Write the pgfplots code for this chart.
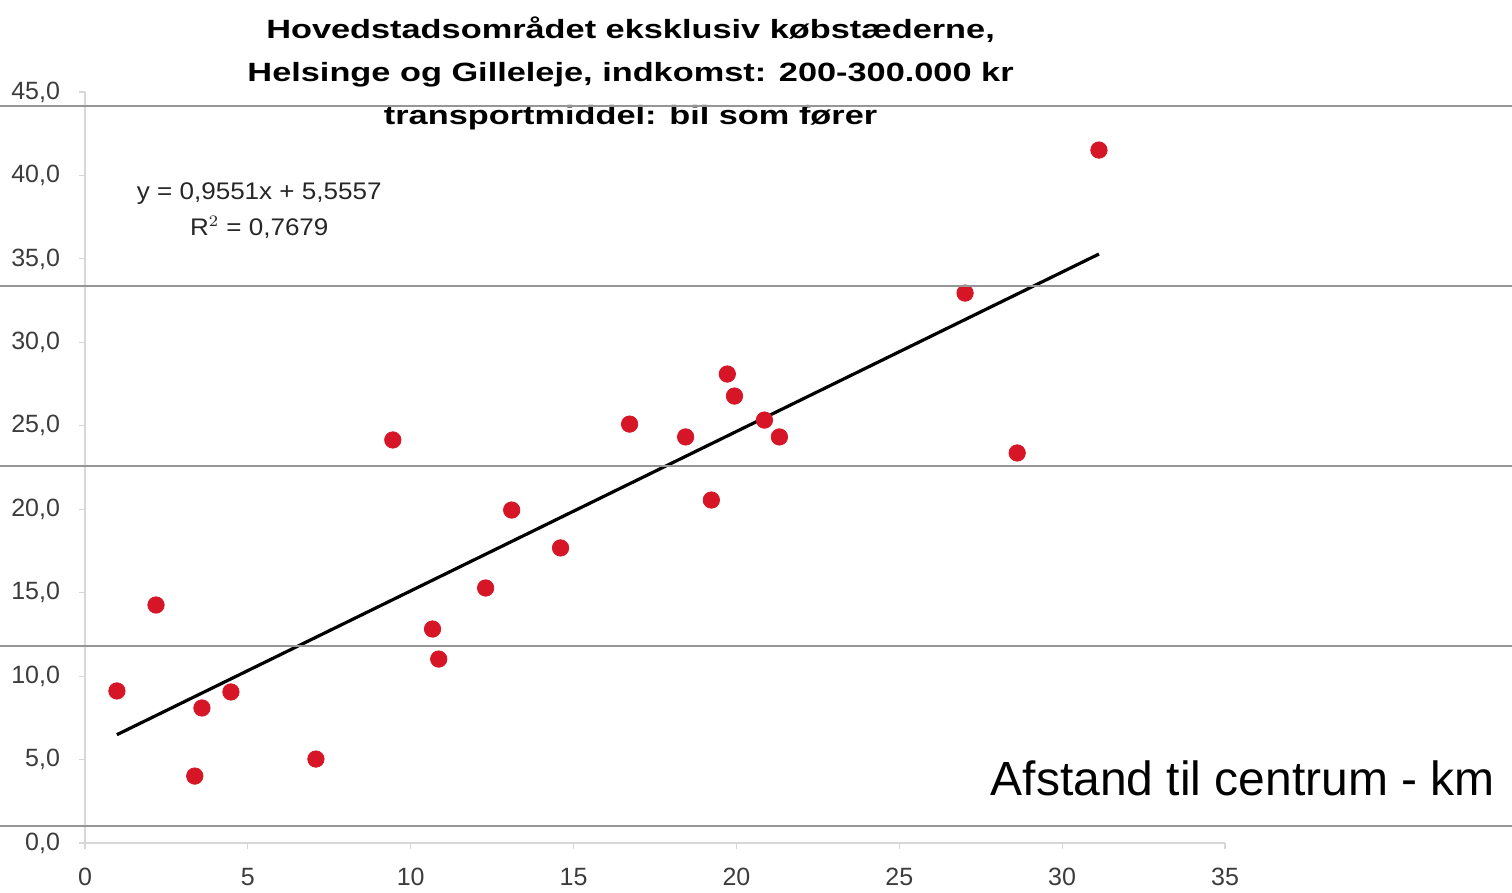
\documentclass[border=0pt]{standalone}
\usepackage{pgfplots}
\pgfplotsset{compat=1.18}
\usepackage{graphicx}
\usepackage{fontspec}
\setmainfont{Liberation Sans}
\definecolor{dotred}{RGB}{214,22,38}
\definecolor{axgray}{RGB}{215,215,215}
\definecolor{scangray}{RGB}{150,150,150}
\definecolor{ticktext}{RGB}{60,60,60}
\begin{document}
\begin{tikzpicture}
\useasboundingbox (-42.5pt,-25pt) rectangle (713.5pt,421.5pt);
\begin{axis}[
  at={(0,0)}, anchor=south west,
  scale only axis, width=570pt, height=375.5pt,
  xmin=0, xmax=35, ymin=0, ymax=45,
  xtick={0,5,...,35}, ytick={0,5,...,45},
  axis lines=left, axis line style={axgray, line width=0.8pt, -},
  tick style={axgray, line width=0.6pt}, tick align=outside, major tick length=3pt,
  ticklabel style={font=\fontsize{12.5}{14}\selectfont, text=ticktext},
  xticklabel style={yshift=-6pt},
  yticklabel style={xshift=-6pt},
  yticklabel={\pgfmathprintnumber[fixed,fixed zerofill,precision=1,use comma]{\tick}},
  /pgf/number format/assume math mode=true,
  clip=false,
]
\addplot[only marks, mark=*, mark size=4.1pt, mark options={fill=dotred, draw=dotred}] coordinates {
(0.98,9.11) (2.18,14.26) (3.59,8.09) (3.37,4.01) (4.48,9.05) (7.09,5.03)
(9.45,24.15) (10.67,12.82) (10.86,11.02) (12.30,15.28) (13.10,19.95)
(14.60,17.68) (16.72,25.10) (18.44,24.33) (19.23,20.55) (19.72,28.10)
(19.94,26.78) (20.86,25.34) (21.32,24.33) (27.02,32.95) (28.62,23.37)
(31.13,41.52)
};
\addplot[black, line width=1.6pt] coordinates {(0.98,6.49) (31.13,35.29)};
\node[font=\fontsize{12}{14}\selectfont, text=black!85, align=center] at (axis cs:5.35,37.9) {\scalebox{1.085}[1]{y = 0,9551x + 5,5557}\\[4pt]\scalebox{1.085}[1]{R$^{2}$ = 0,7679}};
\node[font=\fontsize{24}{28}\selectfont, anchor=east] at (axis cs:43.5,3.85) {Afstand til centrum - km};
\node[font=\bfseries\fontsize{13.2}{21.5}\selectfont, align=center, anchor=north] at (axis cs:16.75,49.92) {\scalebox{1.3}[1]{Hovedstadsområdet eksklusiv købstæderne,}\\\scalebox{1.3}[1]{Helsinge og Gilleleje, indkomst: 200-300.000 kr}\\\scalebox{1.3}[1]{transportmiddel: bil som fører}};
\end{axis}
\foreach \yy in {368.5,278.5,188.5,98.5,8.5}{
  \draw[scangray, line width=0.6pt] (-42.5pt,\yy pt) -- (713.5pt,\yy pt);
}
\end{tikzpicture}
\end{document}
